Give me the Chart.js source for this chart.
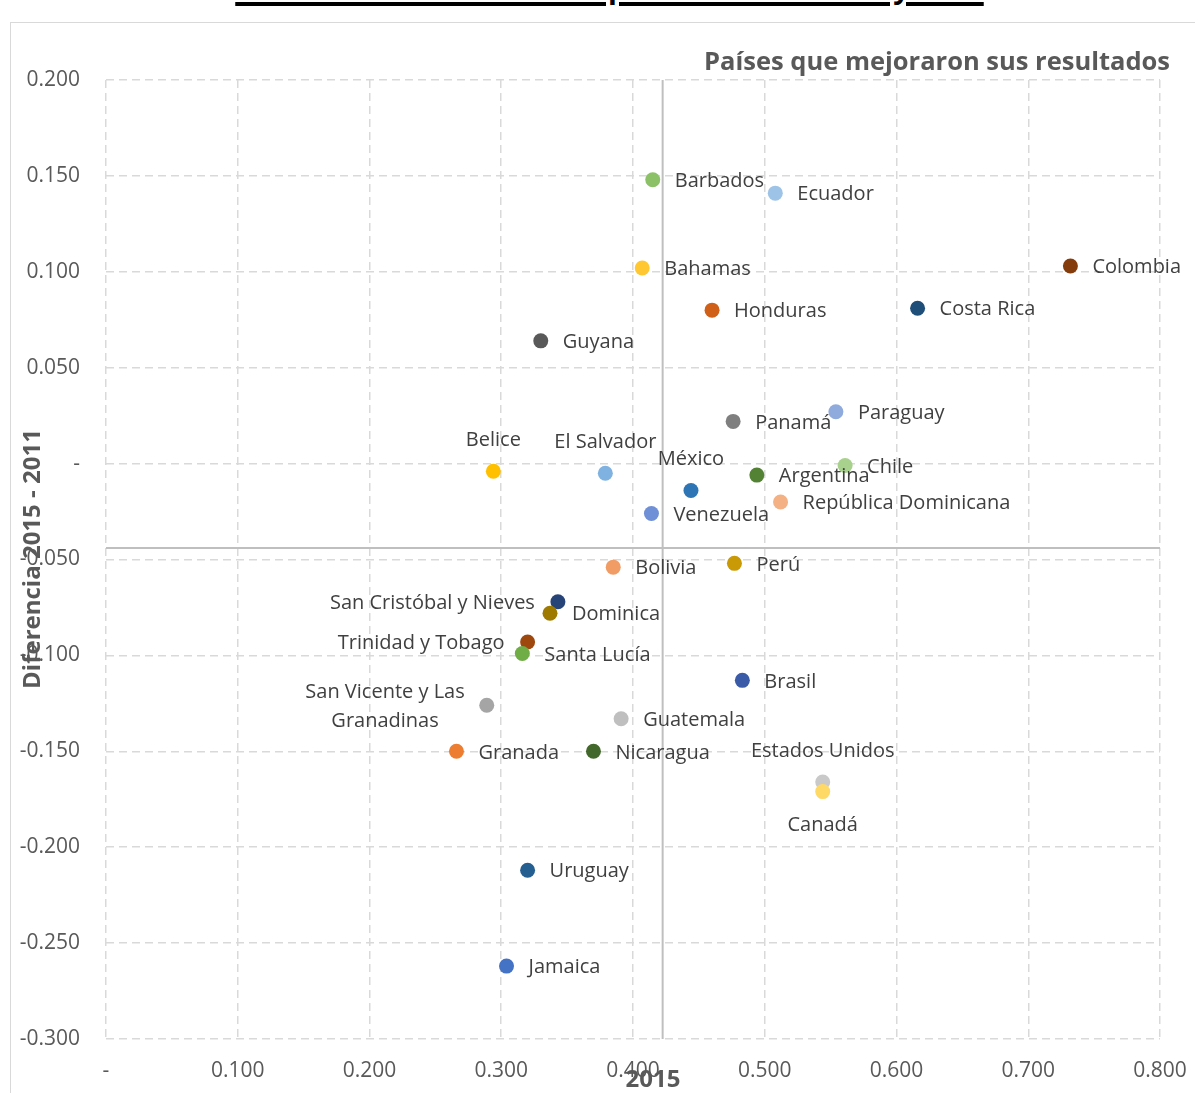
<!DOCTYPE html>
<html>
<head>
    <meta charset="utf-8">
    <title>Países que mejoraron sus resultados</title>
    <script src="https://cdn.jsdelivr.net/npm/chart.js"></script>
    <style>
        body {
            margin: 0;
            background: #fff;
            font-family: "Open Sans", sans-serif;
            overflow: hidden;
        }
        #wrap {
            position: relative;
            width: 1195px;
            height: 1093px;
            overflow: hidden;
        }
        #frame {
            position: absolute;
            left: 10px;
            top: 22px;
            width: 1220px;
            height: 1120px;
            border: 1px solid #d9d9d9;
        }
        #top-title {
            position: absolute;
            left: 0;
            width: 1219px;
            top: -33px;
            text-align: center;
            font-weight: bold;
            font-size: 29px;
            color: #000;
            text-decoration: underline;
            text-decoration-thickness: 4px;
            text-underline-offset: 4px;
            white-space: nowrap;
        }
        canvas {
            position: absolute;
            left: 0;
            top: 0;
        }
    </style>
</head>
<body>

<div id="wrap">
    <div id="top-title">Gráfico 4: Resultados comparados entre 2011 y 2015</div>
    <div id="frame"></div>
    <canvas id="scatter" width="1195" height="1093"></canvas>
</div>

<script>
// Países y valores
const paises = [
    'Barbados', 'Ecuador', 'Bahamas', 'Colombia', 'Honduras', 'Costa Rica', 'Guyana',
    'Panamá', 'Paraguay', 'Chile', 'Belice', 'El Salvador', 'Argentina', 'México',
    'República Dominicana', 'Venezuela', 'Bolivia', 'Perú', 'San Cristóbal y Nieves',
    'Dominica', 'Trinidad y Tobago', 'Santa Lucía', 'Brasil', 'San Vicente y Las Granadinas',
    'Guatemala', 'Granada', 'Nicaragua', 'Estados Unidos', 'Canadá', 'Uruguay', 'Jamaica'
];
const resultado2015 = [
    0.415, 0.508, 0.407, 0.732, 0.460, 0.616, 0.330,
    0.476, 0.554, 0.561, 0.294, 0.379, 0.494, 0.444,
    0.512, 0.414, 0.385, 0.477, 0.343,
    0.337, 0.320, 0.316, 0.483, 0.289,
    0.391, 0.266, 0.370, 0.544, 0.544, 0.320, 0.304
];
const diferencia = [
    0.148, 0.141, 0.102, 0.103, 0.080, 0.081, 0.064,
    0.022, 0.027, -0.001, -0.004, -0.005, -0.006, -0.014,
    -0.020, -0.026, -0.054, -0.052, -0.072,
    -0.078, -0.093, -0.099, -0.113, -0.126,
    -0.133, -0.150, -0.150, -0.166, -0.171, -0.212, -0.262
];
// promedios (líneas de referencia)
const promedio2015 = 0.4225;
const promedioDiferencia = -0.044;

const colores = [
    '#8cc168', '#9dc3e6', '#ffc832', '#843c0c', '#d05f17', '#1f4e79', '#595959',
    '#7f7f7f', '#8faadc', '#a9d18e', '#ffc000', '#7fb2e0', '#548235', '#2e75b6',
    '#f4b183', '#6f8fd6', '#f19c65', '#c99a06', '#264478',
    '#9e7b00', '#9e480e', '#70ad47', '#3a5ba8', '#a5a5a5',
    '#bfbfbf', '#ed7d31', '#43682b', '#c9c9c9', '#ffd966', '#255e91', '#4472c4'
];
// dónde va cada etiqueta (por defecto a la derecha)
const lugarEtiqueta = {
    'Belice': 'arriba',
    'El Salvador': 'arriba',
    'México': 'arriba',
    'Estados Unidos': 'arriba',
    'Canadá': 'abajo',
    'San Cristóbal y Nieves': 'izq',
    'Trinidad y Tobago': 'izq',
    'San Vicente y Las Granadinas': 'izq'
};

const grisTexto = '#595959';

function tickLabel(v) {
    return Math.abs(v) < 1e-9 ? '-' : v.toFixed(3);
}

const etiquetasPlugin = {
    id: 'etiquetas',
    afterDatasetsDraw(chart) {
        const ctx = chart.ctx;
        const meta = chart.getDatasetMeta(0);
        ctx.save();
        ctx.font = '20px "Open Sans"';
        ctx.fillStyle = '#404040';
        ctx.textBaseline = 'middle';
        meta.data.forEach((pt, i) => {
            const nombre = paises[i];
            const lugar = lugarEtiqueta[nombre] || 'der';
            let lineas = [nombre];
            if (nombre.length > 24) {
                const k = nombre.lastIndexOf(' ');
                lineas = [nombre.slice(0, k), nombre.slice(k + 1)];
            }
            if (lugar === 'der') {
                ctx.textAlign = 'left';
                ctx.fillText(nombre, pt.x + 22, pt.y + 1.5);
            } else if (lugar === 'arriba') {
                ctx.textAlign = 'center';
                ctx.fillText(nombre, pt.x, pt.y - 31);
            } else if (lugar === 'abajo') {
                ctx.textAlign = 'center';
                ctx.fillText(nombre, pt.x, pt.y + 34);
            } else {
                if (lineas.length === 1) {
                    ctx.textAlign = 'right';
                    ctx.fillText(nombre, pt.x - 23, pt.y + 1.5);
                } else {
                    ctx.textAlign = 'center';
                    const w = Math.max(...lineas.map(l => ctx.measureText(l).width));
                    const cx = pt.x - 22 - w / 2;
                    ctx.fillText(lineas[0], cx, pt.y - 13);
                    ctx.fillText(lineas[1], cx, pt.y + 16);
                }
            }
        });

        // títulos
        ctx.fillStyle = grisTexto;
        ctx.font = 'bold 25.5px "Open Sans"';
        ctx.textAlign = 'right';
        ctx.fillText('Países que mejoraron sus resultados', 1170, 63);
        ctx.font = 'bold 24px "Open Sans"';
        ctx.textAlign = 'center';
        ctx.fillText('2015', 653, 1080);
        ctx.translate(33, 559);
        ctx.rotate(-Math.PI / 2);
        ctx.fillText('Diferencia 2015 - 2011', 0, 0);
        ctx.restore();
    }
};

document.addEventListener('DOMContentLoaded', () => {
    const ctx = document.getElementById('scatter').getContext('2d');
    const puntos = paises.map((p, i) => ({ x: resultado2015[i], y: diferencia[i] }));

    new Chart(ctx, {
        type: 'scatter',
        data: {
            datasets: [
                {
                    label: 'Países',
                    data: puntos,
                    backgroundColor: colores,
                    borderColor: colores,
                    borderWidth: 0,
                    pointRadius: 7.5,
                    pointHoverRadius: 7.5,
                    order: 1
                },
                {
                    label: 'Promedio 2015',
                    data: [{ x: promedio2015, y: -0.3 }, { x: promedio2015, y: 0.2 }],
                    showLine: true,
                    borderColor: '#bfbfbf',
                    borderWidth: 2,
                    pointRadius: 0,
                    order: 2
                },
                {
                    label: 'Promedio diferencia',
                    data: [{ x: 0, y: promedioDiferencia }, { x: 0.8, y: promedioDiferencia }],
                    showLine: true,
                    borderColor: '#bfbfbf',
                    borderWidth: 2,
                    pointRadius: 0,
                    order: 2
                }
            ]
        },
        options: {
            responsive: false,
            animation: false,
            layout: { padding: { top: 80, right: 35, left: 0, bottom: 0 } },
            plugins: {
                legend: { display: false },
                tooltip: { enabled: false }
            },
            scales: {
                x: {
                    type: 'linear',
                    min: 0,
                    max: 0.8,
                    ticks: {
                        stepSize: 0.1,
                        callback: tickLabel,
                        color: grisTexto,
                        font: { family: 'Open Sans', size: 21 },
                        padding: 19,
                        maxRotation: 0
                    },
                    grid: { color: '#d9d9d9', lineWidth: 1.5, drawTicks: false },
                    border: { display: false, dash: [8, 5] },
                    afterFit(scale) {
                        scale.height = 54;
                        scale.paddingLeft = 0;
                        scale.paddingRight = 0;
                    }
                },
                y: {
                    type: 'linear',
                    min: -0.3,
                    max: 0.2,
                    ticks: {
                        stepSize: 0.05,
                        callback: tickLabel,
                        color: grisTexto,
                        font: { family: 'Open Sans', size: 21 },
                        padding: 26
                    },
                    grid: { color: '#d9d9d9', lineWidth: 1.5, drawTicks: false },
                    border: { display: false, dash: [8, 5] },
                    afterFit(scale) {
                        scale.width = 106;
                        scale.paddingTop = 0;
                        scale.paddingBottom = 0;
                    }
                }
            }
        },
        plugins: [etiquetasPlugin]
    });
});
</script>

</body>
</html>
